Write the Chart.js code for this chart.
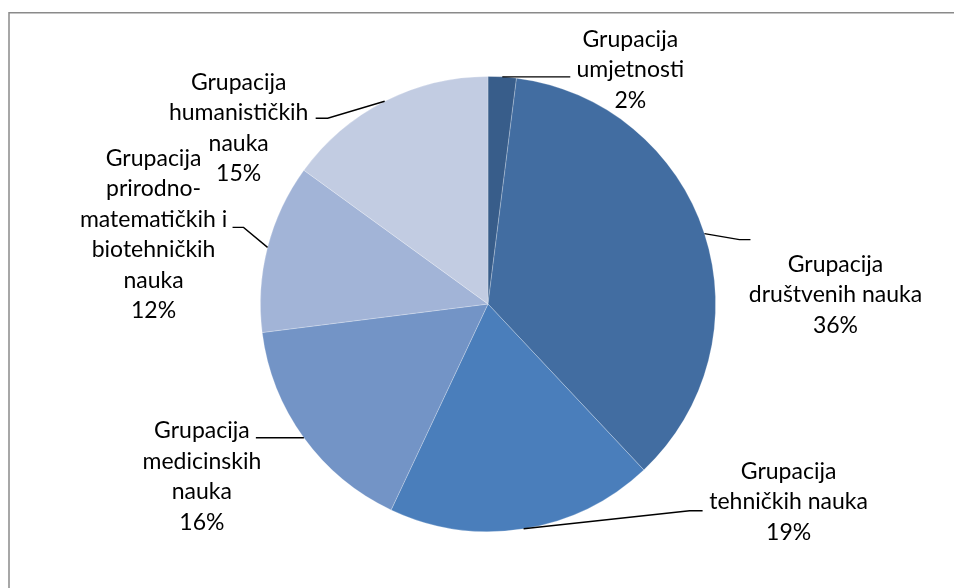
<!DOCTYPE html>
<html><head><meta charset="utf-8">
<script src="https://cdn.jsdelivr.net/npm/chart.js@4/dist/chart.umd.min.js"></script>
<style>html,body{margin:0;padding:0;background:#fff;}#wrap{width:954px;height:588px;position:relative;}</style>
</head><body><div id="wrap"><canvas id="c" width="954" height="588"></canvas></div>
<script>
const categories = [
  ["Grupacija", "umjetnosti"],
  ["Grupacija", "društvenih nauka"],
  ["Grupacija", "tehničkih nauka"],
  ["Grupacija", "medicinskih", "nauka"],
  ["Grupacija", "prirodno-", "matematičkih i", "biotehničkih", "nauka"],
  ["Grupacija", "humanističkih", "nauka"]
];
const values = [2, 36, 19, 16, 12, 15];
const colors = ["#385d8a", "#426da1", "#4a7ebb", "#7394c6", "#a2b4d7", "#c2cce2"];

// label layout relative to the outer midpoint of each slice: elbow, line end, label centre
const labelLayout = [
  {ex: 0, ey: 0, endDx: 68, lx: 128, ly: -7},
  {ex: 35, ey: 6, endDx: 46, lx: 131, ly: 61},
  {ex: 166, ey: -18, endDx: 179, lx: 265, ly: -27},
  {ex: 0, ey: 0, endDx: -48, lx: -102, ly: 39},
  {ex: -24, ey: -20, endDx: -35, lx: -114, ly: -13},
  {ex: -57, ey: 17, endDx: -69, lx: -146, ly: 27}
];

const frame = {
  id: 'frame',
  beforeDraw(chart) {
    const ctx = chart.ctx;
    ctx.save();
    ctx.strokeStyle = '#8a8a8a';
    ctx.lineWidth = 1.5;
    ctx.strokeRect(9, 12.75, 1000, 1000);
    ctx.restore();
  }
};

const labels = {
  id: 'pieLabels',
  afterDatasetsDraw(chart) {
    const ctx = chart.ctx;
    const meta = chart.getDatasetMeta(0);
    const total = values.reduce((a, b) => a + b, 0);
    ctx.save();
    meta.data.forEach((arc, i) => {
      const p = arc.getProps(['x', 'y', 'startAngle', 'endAngle', 'outerRadius'], true);
      const mid = (p.startAngle + p.endAngle) / 2;
      const sx = p.x + Math.cos(mid) * p.outerRadius;
      const sy = p.y + Math.sin(mid) * p.outerRadius;
      const L = labelLayout[i];
      ctx.strokeStyle = '#000';
      ctx.lineWidth = 1.4;
      ctx.beginPath();
      ctx.moveTo(sx, sy);
      ctx.lineTo(sx + L.ex, sy + L.ey);
      ctx.lineTo(sx + L.endDx, sy + L.ey);
      ctx.stroke();
      const lines = categories[i].concat([Math.round(values[i] / total * 100) + '%']);
      const lh = 30.5;
      ctx.fillStyle = '#000';
      ctx.font = '23px Lato, "Open Sans", sans-serif';
      ctx.textAlign = 'center';
      ctx.textBaseline = 'middle';
      const cx = sx + L.lx, cy = sy + L.ly;
      lines.forEach((t, k) => {
        ctx.fillText(t, cx, cy + (k - (lines.length - 1) / 2) * lh);
      });
    });
    ctx.restore();
  }
};

new Chart(document.getElementById('c'), {
  type: 'pie',
  data: {
    labels: categories,
    datasets: [{
      data: values,
      backgroundColor: colors,
      borderColor: 'rgba(255,255,255,0.3)',
      borderWidth: 0.8
    }]
  },
  options: {
    responsive: false,
    animation: false,
    layout: {padding: {left: 260, right: 238, top: 76, bottom: 56}},
    plugins: {legend: {display: false}, tooltip: {enabled: false}}
  },
  plugins: [frame, labels]
});
</script>
</body></html>
